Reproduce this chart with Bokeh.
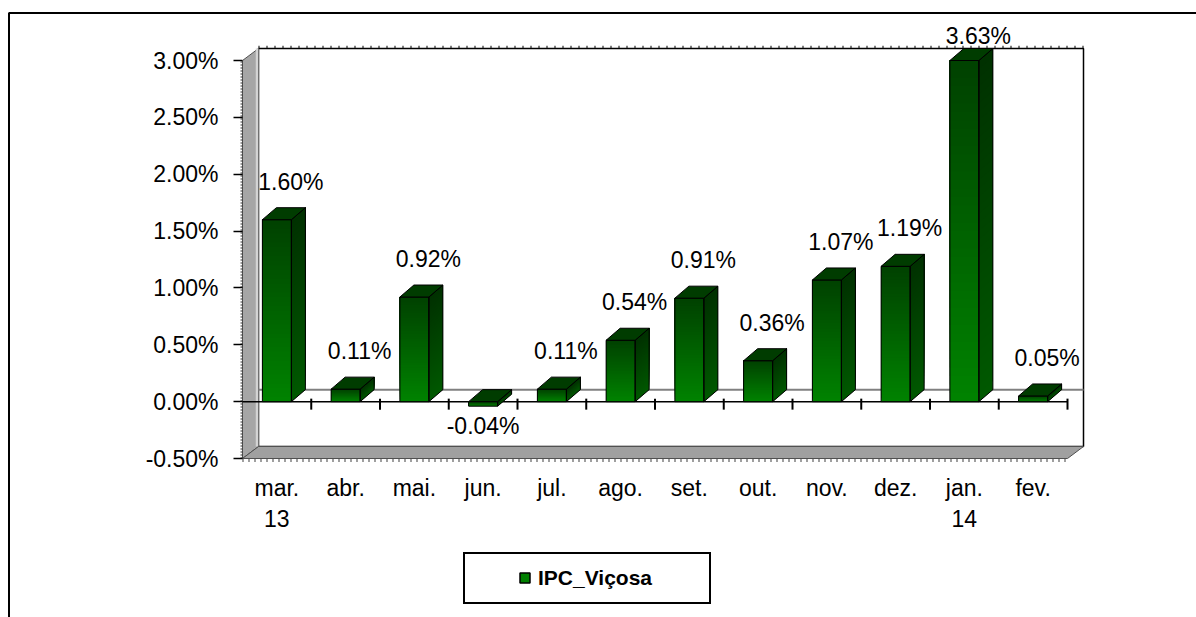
import numpy as np
from bokeh.plotting import figure
from bokeh.models import (Range1d, FixedTicker, PrintfTickFormatter,
                          ColumnDataSource, Legend, LegendItem)
from bokeh.embed import file_html
from bokeh.resources import INLINE

# ---------------- data ----------------
months = ["mar.\n13", "abr.", "mai.", "jun.", "jul.", "ago.", "set.",
          "out.", "nov.", "dez.", "jan.\n14", "fev."]
ipc = [1.60, 0.11, 0.92, -0.04, 0.11, 0.54, 0.91, 0.36, 1.07, 1.19, 3.63, 0.05]
y_ticks = [-0.5, 0.0, 0.5, 1.0, 1.5, 2.0, 2.5, 3.0]
series_name = "IPC_Viçosa"

Y_MIN, Y_MAX = -0.5, 3.0
FONT = "Liberation Sans"

# ---------------- geometry (picture pixels) ----------------
OX, OY = 0, 0                   # canvas origin in the picture
W, H = 1196, 617
AX_L, AX_R = 242, 1067          # front category axis extent
AY_T, AY_B = 60, 458            # front value axis extent
n = len(ipc)
SX = (AX_R - AX_L) / n
SY = (AY_B - AY_T) / (Y_MAX - Y_MIN)
x0 = -0.5


def px(page_x):
    return x0 + (page_x - AX_L) / SX


def py(page_y):
    return Y_MIN + (AY_B - page_y) / SY


p = figure(width=W, height=H,
           x_range=Range1d(px(OX), px(OX + W)),
           y_range=Range1d(py(OY + H), py(OY)),
           output_backend="svg", toolbar_location=None,
           min_border=0, min_border_left=0, min_border_right=0,
           min_border_top=0, min_border_bottom=0)
p.grid.visible = False
p.outline_line_color = None
p.background_fill_color = "white"
p.border_fill_color = "white"

# axes (drawn at fixed locations inside the full-canvas frame)
p.yaxis.fixed_location = x0
p.yaxis.ticker = FixedTicker(ticks=y_ticks, minor_ticks=[])
p.yaxis.formatter = PrintfTickFormatter(format="%.2f%%")
p.yaxis.axis_line_color = None
p.yaxis.major_tick_out = 9
p.yaxis.major_tick_in = 0
p.yaxis.major_tick_line_color = "black"
p.yaxis.major_tick_line_width = 1.5
p.yaxis.minor_tick_line_color = None
p.yaxis.major_label_standoff = 15
p.yaxis.major_label_text_font = FONT
p.yaxis.major_label_text_font_size = "23px"
p.yaxis.major_label_text_color = "black"

p.xaxis.fixed_location = Y_MIN
p.xaxis.ticker = FixedTicker(ticks=list(range(n)), minor_ticks=[])
p.xaxis.major_label_overrides = {i: m for i, m in enumerate(months)}
p.xaxis.axis_line_color = None
p.xaxis.major_tick_line_color = None
p.xaxis.major_tick_out = 0
p.xaxis.major_tick_in = 0
p.xaxis.minor_tick_line_color = None
p.xaxis.major_label_standoff = 16
p.xaxis.major_label_text_font = FONT
p.xaxis.major_label_text_font_size = "23px"
p.xaxis.major_label_text_color = "black"

# outer chart-area border
p.line([px(8.5), px(8.5), px(OX + W)], [py(OY + H), py(12.5), py(12.5)],
       line_color="black", line_width=2)

# ---------------- 3D frame ----------------
WX, WY = 16 / SX, 12 / SY
xr = x0 + n
# back wall
p.quad(left=x0 + WX, right=xr + WX, bottom=Y_MIN + WY, top=Y_MAX + WY,
       fill_color="white", line_color="black", line_width=1.5)
p.line([x0 + WX, xr + WX], [Y_MAX + WY + 1.5 / SY] * 2, line_color="black",
       line_width=2.5, line_dash="1 7")
# left wall
p.patch([x0, x0, x0 + WX, x0 + WX], [Y_MIN, Y_MAX, Y_MAX + WY, Y_MIN + WY],
        fill_color="#a6a6a6", line_color="#505050", line_width=1)
p.line([x0 + WX - 1.5 / SX] * 2, [Y_MIN + WY, Y_MAX + WY], line_color="#d4d4d4",
       line_width=2.5)
p.line([x0 - 1 / SX] * 2, [Y_MIN, Y_MAX], line_color="#303030",
       line_width=2, line_dash="1 2")
# floor
p.patch([x0, xr, xr + WX, x0 + WX], [Y_MIN, Y_MIN, Y_MIN + WY, Y_MIN + WY],
        fill_color="#a0a0a0", line_color="#505050", line_width=1)
p.line([x0, xr], [Y_MIN - 2 / SY] * 2, line_color="#404040",
       line_width=3, line_dash="1 5")
# zero lines
p.line([x0 + WX, xr + WX], [WY, WY], line_color="#808080", line_width=2)
p.line([x0, xr], [0, 0], line_color="black", line_width=1.5)
bounds = [x0 + k for k in range(1, n + 1)]
p.segment(x0=bounds, y0=[3 / SY] * n, x1=bounds, y1=[-8 / SY] * n,
          line_color="black", line_width=2)

# ---------------- bars ----------------
vals = np.array(ipc)
tops = np.clip(vals, Y_MIN, Y_MAX)
lo = np.minimum(0, tops)
hi = np.maximum(0, tops)
xc = np.arange(n, dtype=float)
HW = 14.5 / SX
BX, BY = 14 / SX, 12 / SY


def hexc(r, g, b):
    return "#%02x%02x%02x" % (int(round(r)), int(round(g)), int(round(b)))


NB = 40
fl, fr, fb, ft, fc = [], [], [], [], []
sxs, sys_, sc = [], [], []
steps = np.linspace(0, 1, NB + 1)[:-1]
for k, f in enumerate(steps):          # overlapping bands, bottom to top
    for i in range(n):
        yb = lo[i] + (hi[i] - lo[i]) * f
        fl.append(xc[i] - HW); fr.append(xc[i] + HW)
        fb.append(yb); ft.append(hi[i])
        fc.append(hexc(0, 130 - 66 * f, 0))
        x1 = xc[i] + HW
        sxs.append([x1, x1, x1 + BX, x1 + BX])
        sys_.append([yb, hi[i], hi[i] + BY, yb + BY])
        sc.append(hexc(0, 88 - 40 * f, 0))

p.quad(source=ColumnDataSource(dict(l=fl, r=fr, b=fb, t=ft, c=fc)),
       left="l", right="r", bottom="b", top="t", fill_color="c",
       line_color=None)
p.patches(source=ColumnDataSource(dict(xs=sxs, ys=sys_, c=sc)),
          xs="xs", ys="ys", fill_color="c", line_color=None)
# outlines
p.quad(left=xc - HW, right=xc + HW, bottom=lo, top=hi, fill_color=None,
       line_color="black", line_width=1)
p.patches(xs=[[x + HW, x + HW, x + HW + BX, x + HW + BX] for x in xc],
          ys=[[b, t, t + BY, b + BY] for b, t in zip(lo, hi)],
          fill_color=None, line_color="black", line_width=1)
# top faces
p.patches(xs=[[x - HW, x + HW, x + HW + BX, x - HW + BX] for x in xc],
          ys=[[t, t, t + BY, t + BY] for t in hi],
          fill_color="#003c00", line_color="black", line_width=1)

# ---------------- data labels ----------------
pos = vals >= 0
lab_y = np.where(pos, np.minimum(hi + 38 / SY, Y_MAX + 25 / SY), lo - 20 / SY)
lab_x = xc + np.where(pos, 14 / SX, 0)
p.text(x=lab_x, y=lab_y, text=["%.2f%%" % v for v in ipc],
       text_font={"value": FONT}, text_font_size={"value": "23px"},
       text_color="black", text_align="center", text_baseline="middle")

# ---------------- legend ----------------
frame_box = p.scatter(x=[px(-100)], y=[py(-100)], marker="square", size=1,
                      fill_alpha=0, line_alpha=0)
dummy = p.scatter(x=[px(-100)], y=[py(-100)], marker="square", size=10,
                  fill_color="#008000", line_color="black", line_width=1.5)

leg_box = Legend(items=[LegendItem(label=" ", renderers=[frame_box])],
                 location=(463 - OX, OY + H - 604), padding=14,
                 glyph_width=10, glyph_height=20, label_height=20,
                 label_width=244 - 28 - 10, label_standoff=0, margin=0,
                 border_line_color="black", border_line_width=2,
                 border_line_alpha=1,
                 background_fill_color="white", background_fill_alpha=1)
leg = Legend(items=[LegendItem(label=series_name, renderers=[dummy])],
             location=(512 - OX, OY + H - 590), padding=8,
             glyph_width=25, glyph_height=25, label_height=25,
             label_standoff=1, margin=0,
             border_line_color=None, background_fill_alpha=0,
             label_text_font=FONT, label_text_font_size="21px",
             label_text_font_style="bold", label_text_color="black")
p.add_layout(leg_box, "center")
p.add_layout(leg, "center")

open("out.html", "w").write(file_html(p, INLINE))
